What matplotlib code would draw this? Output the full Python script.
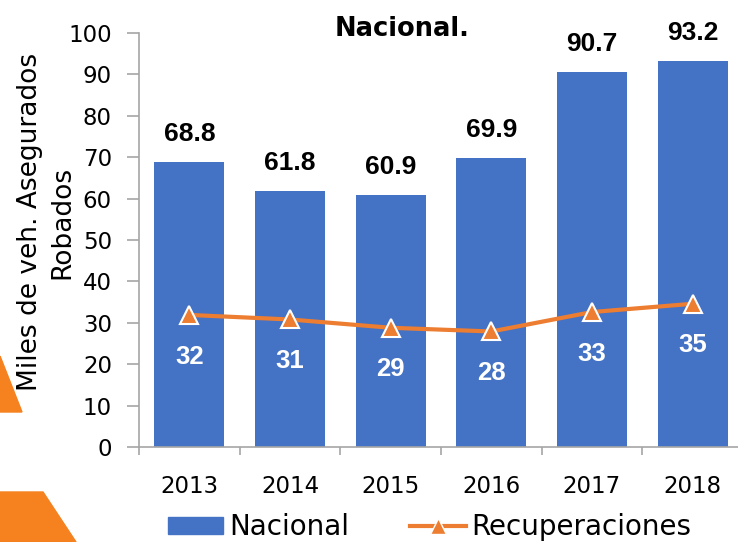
import matplotlib
matplotlib.use("Agg")
import matplotlib.pyplot as plt
from matplotlib.patches import Polygon
from matplotlib.lines import Line2D
from matplotlib.patches import Patch

years = ["2013", "2014", "2015", "2016", "2017", "2018"]
nacional = [68.8, 61.8, 60.9, 69.9, 90.7, 93.2]
recuperaciones = [31.9, 30.8, 28.8, 27.9, 32.6, 34.6]

BLUE = "#4472C4"
ORANGE = "#ED7D31"
DECO = "#F5821F"
GREY = "#A6A6A6"

W, H = 738, 542
fig = plt.figure(figsize=(W / 100, H / 100), dpi=100)

# decorative orange shapes on the left edge (pixel coords -> figure fraction)
def px(pts):
    return [(x / W, 1 - y / H) for x, y in pts]

fig.patches.append(Polygon(px([(0, 356), (22, 412), (0, 412)]), closed=True,
                           transform=fig.transFigure, color=DECO, zorder=0))
fig.patches.append(Polygon(px([(0, 492), (43, 492), (76, 542), (0, 542)]), closed=True,
                           transform=fig.transFigure, color=DECO, zorder=0))

ax = fig.add_axes([139 / W, 1 - 447 / H, 604 / W, 414 / H])
x = list(range(len(years)))

ax.bar(x, nacional, width=0.695, color=BLUE, zorder=2)
ax.plot(x, recuperaciones, color=ORANGE, lw=3, marker="^", ms=13, mfc=ORANGE,
        mec="white", mew=1.5, zorder=3)

for xi, v in zip(x, nacional):
    ax.annotate("%.1f" % v, (xi, v), xytext=(0, 20), textcoords="offset points",
                ha="center", va="center", fontsize=19, fontweight="bold",
                family="Liberation Sans", color="black")
for xi, v in zip(x, recuperaciones):
    ax.annotate("%.0f" % v, (xi, v), xytext=(0, -30), textcoords="offset points",
                ha="center", va="center", fontsize=18.5, fontweight="bold",
                family="Liberation Sans", color="white", zorder=4)

ax.set_xlim(-0.5, 5.5)
ax.set_ylim(0, 100)
ax.set_yticks(range(0, 101, 10))
ax.set_xticks(x)
ax.set_xticklabels(years)
ax.set_xticks([i - 0.5 for i in range(len(years) + 1)], minor=True)
ax.tick_params(axis="x", which="major", length=0, pad=20, labelsize=16.5)
ax.tick_params(axis="x", which="minor", length=6, color=GREY, width=1.2)
ax.tick_params(axis="y", length=8.5, color=GREY, width=1.2, pad=11, labelsize=16.5)

for s in ("top", "right"):
    ax.spines[s].set_visible(False)
for s in ("left", "bottom"):
    ax.spines[s].set_color(GREY)
    ax.spines[s].set_linewidth(1.2)

fig.text(46 / W, 1 - 222 / H, "Miles de veh. Asegurados\nRobados", rotation=90,
         ha="center", va="center", fontsize=19, linespacing=1.3)
fig.text(402 / W, 1 - 35.5 / H, "Nacional.", ha="center", va="baseline",
         fontsize=18.5, fontweight="bold")

handles = [Patch(color=BLUE, label="Nacional"),
           Line2D([], [], color=ORANGE, lw=3, marker="^", ms=11, mfc=ORANGE,
                  mec="white", mew=1, label="Recuperaciones")]
fig.legend(handles=handles, loc="center", bbox_to_anchor=(429.5 / W, 1 - 527 / H),
           ncol=2, frameon=False, fontsize=20, handlelength=2.0, handleheight=0.58,
           handletextpad=0.2, columnspacing=2.2, borderpad=0, borderaxespad=0)

fig.savefig("out.png", dpi=100)
